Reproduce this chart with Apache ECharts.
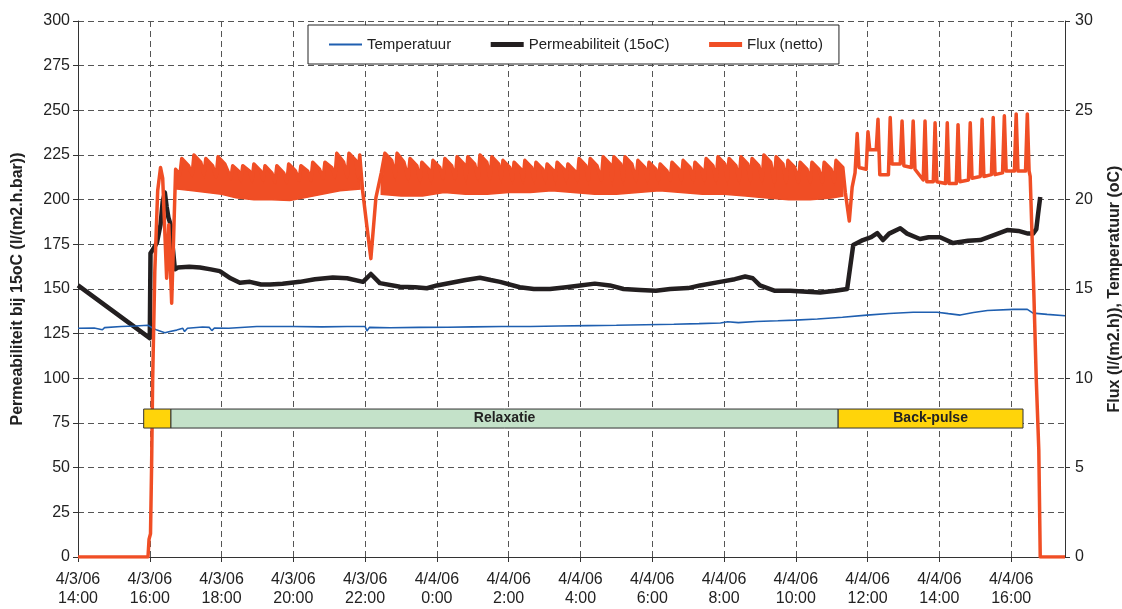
<!DOCTYPE html>
<html>
<head>
<meta charset="utf-8">
<script src="https://cdn.jsdelivr.net/npm/echarts@6/dist/echarts.min.js"></script>
<style>
  html, body { margin: 0; padding: 0; background: #fff; }
  #chart { width: 1122px; height: 609px; }
</style>
</head>
<body>
<div id="chart"></div>
<script>
// Time is expressed in hours counted from 4/3/06 0:00 (so 4/4/06 12:00 = 36).
const timeTicks = [
  '4/3/06\n14:00', '4/3/06\n16:00', '4/3/06\n18:00', '4/3/06\n20:00', '4/3/06\n22:00',
  '4/4/06\n0:00', '4/4/06\n2:00', '4/4/06\n4:00', '4/4/06\n6:00', '4/4/06\n8:00',
  '4/4/06\n10:00', '4/4/06\n12:00', '4/4/06\n14:00', '4/4/06\n16:00'
];

// Temperatuur (oC), right axis
const temperature = [
  [14.00,12.80],[14.45,12.82],[14.68,12.72],[14.74,12.84],[15.20,12.90],[15.60,12.93],[15.95,12.97],
  [16.05,12.85],[16.20,12.70],[16.42,12.55],[16.56,12.62],[16.75,12.70],[16.92,12.80],[16.97,12.62],
  [17.05,12.80],[17.47,12.87],[17.66,12.85],[17.73,12.67],[17.80,12.82],[18.20,12.80],[18.98,12.90],
  [19.35,12.90],[20.00,12.90],[20.80,12.88],[21.50,12.90],[22.00,12.90],[22.05,12.65],[22.12,12.85],
  [22.70,12.83],[23.50,12.85],[24.30,12.86],[25.00,12.88],[25.80,12.90],[26.60,12.90],[27.40,12.93],
  [28.20,12.95],[29.00,12.97],[29.80,13.00],[30.60,13.03],[31.30,13.06],[31.90,13.10],[32.10,13.17],
  [32.40,13.12],[32.90,13.18],[33.50,13.22],[33.98,13.26],[34.60,13.32],[35.30,13.42],[35.98,13.54],
  [36.60,13.63],[37.27,13.70],[37.94,13.70],[38.25,13.62],[38.58,13.54],[38.95,13.68],[39.34,13.80],
  [40.06,13.86],[40.45,13.86],[40.61,13.65],[41.00,13.58],[41.50,13.50]
];

// Permeabiliteit bij 15oC (l/(m2.h.bar)), left axis
const permeability = [
  [14.00,152],[16.00,122.5],[16.02,170],[16.07,171.5],[16.20,176],[16.30,186],[16.36,199],[16.42,204],
  [16.47,196],[16.52,190],[16.58,186],[16.70,161],[16.78,162],[17.10,162.5],[17.40,162],[17.70,161],
  [17.95,160],[18.25,156],[18.51,153.5],[18.79,154],[19.10,152.5],[19.35,152.5],[19.70,153],[20.18,154],
  [20.60,155.5],[21.10,156.5],[21.50,156],[21.94,154],[22.16,158.4],[22.41,153.3],[22.97,151.3],
  [23.40,151],[23.72,150.4],[24.00,152],[24.40,153.5],[24.80,155],[25.20,156.3],[25.50,155],[25.76,154],
  [26.31,151],[26.70,150],[27.15,150],[27.60,151],[27.99,152],[28.40,153],[28.82,152],[29.20,150],
  [29.66,149.4],[30.10,149],[30.50,150],[31.00,150.5],[31.33,152],[31.89,154],[32.30,155.5],[32.59,157],
  [32.80,156],[33.00,152],[33.42,149],[33.84,149],[34.30,148.5],[34.68,148],[35.10,149],[35.43,150],
  [35.60,174.6],[35.87,177.4],[36.10,179],[36.27,181.3],[36.43,177.4],[36.60,181],[36.91,184],
  [37.10,181],[37.46,178],[37.70,179],[38.02,179],[38.38,175.7],[38.80,177],[39.14,177.4],[39.50,180],
  [39.89,183],[40.20,182.5],[40.47,181],[40.61,181],[40.70,183.5],[40.75,192],[40.81,201.5]
];

// Flux (netto) (l/(m2.h)), right axis
const fluxNetto = [
  [14.00,0],[15.95,0],[15.98,1.0],[16.02,1.3],[16.05,5.0],[16.08,9.9],[16.14,16.0],[16.22,20.5],
  [16.30,21.8],[16.36,21.2],[16.47,15.6],[16.53,18.6],[16.61,14.2],[16.72,21.7],
  [16.84,21.4],[16.89,22.3],[17.08,21.9],
  [17.18,21.4],[17.23,22.5],[17.42,22.1],
  [17.51,21.4],[17.56,22.3],[17.75,21.9],
  [17.85,21.3],[17.90,22.4],[18.09,22.0],
  [18.26,21.2],[18.31,21.9],[18.47,21.6],
  [18.54,21.1],[18.59,21.9],[18.78,21.6],
  [18.85,21.1],[18.90,22.0],[19.09,21.6],
  [19.16,21.1],[19.21,21.9],[19.40,21.5],
  [19.49,21.0],[19.54,21.9],[19.73,21.5],
  [19.82,21.0],[19.87,22.0],[20.06,21.6],
  [20.16,21.1],[20.21,21.9],[20.40,21.6],
  [20.49,21.1],[20.54,22.1],[20.73,21.7],
  [20.83,21.2],[20.88,22.1],[21.07,21.8],
  [21.16,21.3],[21.21,22.6],[21.40,22.1],
  [21.50,21.3],[21.55,22.6],[21.74,22.2],
  [21.80,21.3],[21.85,22.5],
  [21.93,20.5],[22.05,18.5],[22.16,16.7],[22.30,20.1],[22.45,21.5],
  [22.50,21.4],[22.55,22.6],[22.74,22.2],
  [22.84,21.3],[22.89,22.6],[23.08,22.1],
  [23.20,21.2],[23.25,22.3],[23.44,21.9],
  [23.53,21.1],[23.58,22.1],[23.77,21.7],
  [23.84,21.1],[23.89,22.2],[24.08,21.8],
  [24.17,21.2],[24.22,22.3],[24.41,21.9],
  [24.51,21.2],[24.56,22.4],[24.75,22.0],
  [24.81,21.2],[24.86,22.4],[25.05,22.0],
  [25.15,21.2],[25.20,22.5],[25.39,22.1],
  [25.48,21.2],[25.53,22.4],[25.72,22.0],
  [25.79,21.2],[25.84,22.2],[26.03,21.8],
  [26.10,21.1],[26.15,22.1],[26.34,21.7],
  [26.40,21.1],[26.45,22.2],[26.64,21.8],
  [26.71,21.1],[26.76,22.1],[26.95,21.7],
  [27.02,21.1],[27.07,22.0],[27.26,21.6],
  [27.30,21.1],[27.35,22.1],[27.54,21.7],
  [27.60,21.1],[27.65,22.0],[27.84,21.6],
  [27.91,21.1],[27.96,22.3],[28.15,21.9],
  [28.22,21.1],[28.27,22.3],[28.46,21.9],
  [28.58,21.1],[28.63,22.4],[28.82,22.0],
  [28.88,21.1],[28.93,22.4],[29.12,22.0],
  [29.19,21.1],[29.24,22.4],[29.43,22.0],
  [29.55,21.1],[29.60,22.2],[29.79,21.8],
  [29.86,21.1],[29.91,22.1],[30.10,21.7],
  [30.17,21.1],[30.22,22.0],[30.41,21.6],
  [30.50,21.1],[30.55,22.1],[30.74,21.7],
  [30.81,21.1],[30.86,22.2],[31.05,21.8],
  [31.14,21.1],[31.19,22.1],[31.38,21.7],
  [31.45,21.1],[31.50,22.3],[31.69,21.9],
  [31.78,21.1],[31.83,22.4],[32.02,22.0],
  [32.09,21.1],[32.14,22.3],[32.33,21.9],
  [32.42,21.1],[32.47,22.4],[32.66,22.0],
  [32.73,21.1],[32.78,22.3],[32.97,21.9],
  [33.06,21.1],[33.11,22.5],[33.30,22.1],
  [33.40,21.0],[33.45,22.4],[33.64,22.0],
  [33.73,21.0],[33.78,22.2],[33.97,21.8],
  [34.07,21.0],[34.12,22.1],[34.31,21.7],
  [34.40,21.0],[34.45,22.1],[34.64,21.7],
  [34.74,21.0],[34.79,22.1],[34.98,21.7],
  [35.07,21.0],[35.12,22.2],[35.31,21.8],
  [35.38,20.4],[35.49,18.8],[35.57,20.7],[35.65,21.5],
  [35.71,23.7],[35.76,21.8],[35.96,21.7],
  [36.01,23.8],[36.06,22.8],[36.24,22.8],
  [36.29,24.5],[36.34,21.4],[36.58,21.4],
  [36.63,24.6],[36.68,22.0],[36.91,22.0],
  [36.96,24.4],[37.01,21.9],[37.22,21.8],
  [37.27,24.4],[37.32,21.7],[37.55,21.1],
  [37.60,24.4],[37.65,21.0],[37.83,21.0],
  [37.88,24.3],[37.93,21.0],[38.17,20.9],
  [38.22,24.3],[38.27,20.9],[38.47,20.9],
  [38.52,24.2],[38.57,21.0],[38.81,21.1],
  [38.86,24.3],[38.91,21.2],[39.14,21.3],
  [39.19,24.5],[39.24,21.3],[39.45,21.4],
  [39.50,24.6],[39.55,21.4],[39.76,21.5],
  [39.81,24.7],[39.86,21.6],[40.09,21.6],
  [40.14,24.8],[40.19,21.6],[40.40,21.6],
  [40.45,24.8],[40.50,21.6],
  [40.53,21.3],[40.63,14.9],[40.70,9.9],[40.77,6.0],[40.81,0],[41.50,0]
];

// Lower edge of the dense flux band during the relaxation cycles
const fluxBandLower = [
  [16.72,20.6],[17.20,20.5],[17.60,20.4],[18.00,20.3],[18.40,20.1],[18.90,20.0],[19.40,20.0],
  [19.90,19.95],[20.30,20.1],[20.80,20.3],[21.30,20.5],[21.86,20.6],
  [22.45,20.3],[23.00,20.2],[23.60,20.2],[24.20,20.4],[24.80,20.3],[25.40,20.3],[26.00,20.4],
  [26.60,20.4],[27.20,20.5],[27.80,20.4],[28.40,20.3],[29.00,20.3],[29.60,20.4],[30.20,20.5],
  [30.80,20.4],[31.40,20.3],[32.00,20.3],[32.60,20.2],[33.20,20.1],[33.80,20.0],[34.40,20.0],
  [35.00,20.1],[35.31,20.2]
];
const fluxBandSpans = [[16.72, 21.86], [22.45, 35.31]];

// Operating phases
const phaseStart = [15.83, 16.59, 35.18];
const phaseEnd   = [16.59, 35.18, 40.33];
const phaseNames = ['', 'Relaxatie', 'Back-pulse'];
const phaseLevel = 77.5;

const FONT = '"Liberation Sans", Arial, Helvetica, sans-serif';
const RED = '#F04E25';
const BLACK = '#231F20';
const BLUE = '#1F5FB0';
const phaseFill = ['#FFD40A', '#C4E2C9', '#FFD40A'];

const chart = echarts.init(document.getElementById('chart'), null, { renderer: 'canvas' });

const inSpan = (a, b) => p => p[0] >= a - 1e-9 && p[0] <= b + 1e-9;
const hiddenMarker = { opacity: 0 };

const option = {
  animation: false,
  backgroundColor: '#fff',
  textStyle: { fontFamily: FONT },
  grid: { left: 78, right: 57, top: 21, bottom: 52, containLabel: false, outerBoundsMode: 'none' },
  legend: {
    left: 308,
    top: 25,
    orient: 'horizontal',
    padding: [12, 16, 12, 20],
    itemGap: 37,
    itemWidth: 33,
    itemHeight: 14,
    borderColor: '#222',
    borderWidth: 1,
    backgroundColor: '#fff',
    selectedMode: false,
    textStyle: { fontFamily: FONT, fontSize: 15, color: '#222' },
    data: [
      { name: 'Temperatuur', itemStyle: hiddenMarker, lineStyle: { width: 2 } },
      { name: 'Permeabiliteit (15oC)', itemStyle: hiddenMarker, lineStyle: { width: 5 } },
      { name: 'Flux (netto)', itemStyle: hiddenMarker, lineStyle: { width: 5 } }
    ]
  },
  xAxis: {
    type: 'value',
    min: 14,
    max: 41.5,
    interval: 2,
    axisLine: { show: true, lineStyle: { color: '#333', width: 1 } },
    axisTick: { show: true, length: 5, lineStyle: { color: '#333' } },
    axisLabel: {
      showMaxLabel: false,
      color: '#222',
      fontSize: 16,
      lineHeight: 19,
      margin: 13,
      fontFamily: FONT,
      formatter: v => {
        const k = Math.round((v - 14) / 2);
        return Math.abs(v - (14 + 2 * k)) < 1e-6 && timeTicks[k] ? timeTicks[k] : '';
      }
    },
    splitLine: { show: true, lineStyle: { color: '#555', type: [6, 4], width: 1 } }
  },
  yAxis: [
    {
      type: 'value',
      position: 'left',
      min: 0,
      max: 300,
      interval: 25,
      name: 'Permeabiliteit bij 15oC (l/(m2.h.bar))',
      nameLocation: 'middle',
      nameGap: 52,
      nameMoveOverlap: false,
      nameTextStyle: { fontFamily: FONT, fontWeight: 'bold', fontSize: 16, color: '#222' },
      axisLine: { show: true, lineStyle: { color: '#333', width: 1 } },
      axisTick: { show: true, length: 5, lineStyle: { color: '#333' } },
      axisLabel: { color: '#222', fontSize: 16, margin: 8, fontFamily: FONT },
      splitLine: { show: true, lineStyle: { color: '#555', type: [6, 4], width: 1 } }
    },
    {
      type: 'value',
      position: 'right',
      min: 0,
      max: 30,
      interval: 5,
      name: 'Flux (l/(m2.h)), Temperatuur (oC)',
      nameLocation: 'middle',
      nameGap: 42,
      nameRotate: 90,
      nameMoveOverlap: false,
      nameTextStyle: { fontFamily: FONT, fontWeight: 'bold', fontSize: 16, color: '#222' },
      axisLine: { show: true, lineStyle: { color: '#333', width: 1 } },
      axisTick: { show: true, length: 5, lineStyle: { color: '#333' } },
      axisLabel: { color: '#222', fontSize: 16, margin: 10, fontFamily: FONT },
      splitLine: { show: false }
    }
  ],
  series: [
    {
      name: 'Permeabiliteit (15oC)',
      type: 'line',
      yAxisIndex: 0,
      data: permeability,
      symbol: 'none',
      z: 3,
      lineStyle: { color: BLACK, width: 4.5, join: 'round' },
      itemStyle: { color: BLACK }
    },
    {
      name: 'Temperatuur',
      type: 'line',
      yAxisIndex: 1,
      data: temperature,
      symbol: 'none',
      z: 4,
      lineStyle: { color: BLUE, width: 1.6 },
      itemStyle: { color: BLUE }
    },
    {
      // dense filled band between the cycle peaks and the band's lower edge
      type: 'custom',
      yAxisIndex: 1,
      silent: true,
      z: 4,
      clip: true,
      data: fluxBandSpans.map(s => [s[0], s[1], 0]),
      encode: { x: [0, 1], y: 2 },
      renderItem: (params, api) => {
        const a = api.value(0), b = api.value(1);
        const upper = fluxNetto.filter(inSpan(a, b)).map(p => api.coord(p));
        const lower = fluxBandLower.filter(inSpan(a, b)).reverse().map(p => api.coord(p));
        return {
          type: 'polygon',
          shape: { points: upper.concat(lower) },
          style: { fill: RED, stroke: RED, lineWidth: 1.5 }
        };
      }
    },
    {
      name: 'Flux (netto)',
      type: 'line',
      yAxisIndex: 1,
      data: fluxNetto,
      symbol: 'none',
      z: 5,
      lineStyle: { color: RED, width: 3.5, join: 'round' },
      itemStyle: { color: RED }
    },
    {
      // phase bars drawn above the curves
      type: 'custom',
      yAxisIndex: 0,
      silent: true,
      z: 8,
      data: phaseStart.map((s, i) => [s, phaseEnd[i], phaseLevel, i]),
      encode: { x: [0, 1], y: 2 },
      renderItem: (params, api) => {
        const i = api.value(3);
        const p0 = api.coord([api.value(0), api.value(2)]);
        const p1 = api.coord([api.value(1), api.value(2)]);
        const h = 19;
        return {
          type: 'rect',
          shape: { x: p0[0], y: p0[1] - h / 2, width: p1[0] - p0[0], height: h },
          style: { fill: phaseFill[i], stroke: '#333', lineWidth: 1 },
          textContent: {
            style: {
              text: phaseNames[i], fontFamily: FONT, fontWeight: 'bold',
              fontSize: 14, fill: '#222'
            }
          },
          textConfig: { position: 'inside' }
        };
      }
    }
  ]
};

chart.setOption(option);
</script>
</body>
</html>
